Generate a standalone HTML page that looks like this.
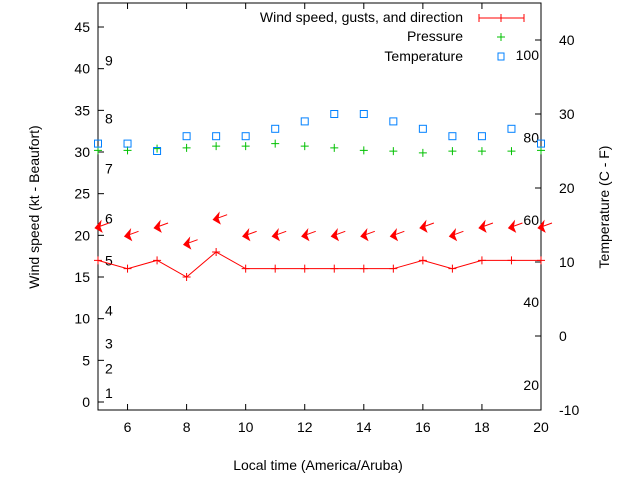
<!DOCTYPE html>
<html><head><meta charset="utf-8"><style>
body{margin:0;background:#fff}
svg text{font-family:"Liberation Sans",sans-serif;font-size:14px;fill:#000}
</style></head><body>
<svg width="640" height="480" xmlns="http://www.w3.org/2000/svg">
<g id="plot"></g>
</svg>
<script>
const hours=[5,6,7,8,9,10,11,12,13,14,15,16,17,18,19,20];
const windSpeed=[17,16,17,15,18,16,16,16,16,16,16,17,16,17,17,17];
const gusts=[21,20,21,19,22,20,20,20,20,20,20,21,20,21,21,21];
const pressure=[30.2,30.2,30.4,30.5,30.7,30.7,31,30.7,30.5,30.2,30.1,29.9,30.1,30.1,30.1,30.2];
const temperature=[26,26,25,27,27,27,28,29,30,30,29,28,27,27,28,26];
const xTicks=[6,8,10,12,14,16,18,20];
const yLeftTicks=[0,5,10,15,20,25,30,35,40,45];
const yRightTicks=[-10,0,10,20,30,40];
const beaufortLabels=["1","2","3","4","5","6","7","8","9"];
const beaufortY=[1.1,4,7,11,17,22,28,34,41];
const fahrLabels=["20","40","60","80","100"];
const fahrY=[-6.6,4.6,15.7,26.8,38];

const L=98,R=541,T=3,B=410;
const X=h=>L+(h-5)*(R-L)/15;
const Y=v=>402-v*8.333;
const YR=t=>336-t*7.4;
const g=document.getElementById('plot');
const NS="http://www.w3.org/2000/svg";
function mk(tag,at,parent){const e=document.createElementNS(NS,tag);for(const k in at)e.setAttribute(k,at[k]);(parent||g).appendChild(e);return e;}
function txt(x,y,s,anchor){const e=mk('text',{x:x,y:y,'text-anchor':anchor||'middle'});e.textContent=s;return e;}

const frame=mk('rect',{x:L,y:T,width:R-L,height:B-T,fill:'none',stroke:'#000','stroke-width':1});



xTicks.forEach(h=>{
 const t=mk('path',{d:`M${X(h)} ${B}v-6M${X(h)} ${T}v6`,stroke:'#000'});
 
 
 const l=txt(X(h),432,String(h));
 
 
});
yLeftTicks.forEach(v=>{
 const t=mk('path',{d:`M${L} ${Y(v)}h6`,stroke:'#000'});
 
 
 const l=txt(L-8,Y(v)+5,String(v),'end');
 
 
});
yRightTicks.forEach(v=>{
 const t=mk('path',{d:`M${R} ${YR(v)}h-6`,stroke:'#000'});
 
 
 const l=txt(R+18,YR(v)+5,String(v),'start');
 
 
});
beaufortLabels.forEach((s,i)=>{
 const l=txt(105,Y(beaufortY[i])+5,s,'start');
 
 
});
fahrLabels.forEach((s,i)=>{
 const l=txt(539,YR(fahrY[i])+5,s,'end');
 
 
});

const wl=mk('polyline',{points:hours.map((h,i)=>X(h)+','+Y(windSpeed[i])).join(' '),fill:'none',stroke:'#f00'});


hours.forEach((h,i)=>{
 const m=mk('path',{d:`M${X(h)-4} ${Y(windSpeed[i])}h8M${X(h)} ${Y(windSpeed[i])-4}v8`,stroke:'#f00'});
 
 
});
hours.forEach((h,i)=>{
 const x=X(h),y=Y(gusts[i]);
 const a=mk('g',{});
 
 
 mk('path',{d:`M${x} ${y}L${x+11} ${y-4}`,stroke:'#f00'},a);
 mk('path',{d:`M${x-3} ${y+1}L${x+3} ${y-6}L${x+2} ${y}L${x+4} ${y+5}Z`,fill:'#f00',stroke:'#f00','stroke-width':0.8},a);
});
hours.forEach((h,i)=>{
 const x=X(h),y=Y(pressure[i]);
 const m=mk('path',{d:`M${x-4} ${y}h8M${x} ${y-4}v8`,stroke:'#00c000'});
 
 
});
hours.forEach((h,i)=>{
 const x=X(h),y=YR(temperature[i]);
 const m=mk('rect',{x:x-3.5,y:y-3.5,width:7,height:7,fill:'none',stroke:'#0080ff'});
 
 
});

const lg=mk('g',{});


[[22,'Wind speed, gusts, and direction'],[41,'Pressure'],[61,'Temperature']].forEach(([y,s])=>{
 const t=mk('text',{x:463,y:y,'text-anchor':'end'},lg);t.textContent=s;
 
 
});
mk('path',{d:'M479 18h45M479 14v8M524 14v8M501 14v8',stroke:'#f00'},lg);
mk('path',{d:'M497 37h8M501 33v8',stroke:'#00c000'},lg);
mk('rect',{x:498,y:53,width:6,height:7,fill:'none',stroke:'#0080ff'},lg);

const xl=txt(318,470,'Local time (America/Aruba)');


const yl=mk('text',{x:0,y:0,'text-anchor':'middle',transform:'translate(39,207) rotate(-90)'});
yl.textContent='Wind speed (kt - Beaufort)';


const yr=mk('text',{x:0,y:0,'text-anchor':'middle',transform:'translate(609,207) rotate(-90)'});
yr.textContent='Temperature (C - F)';


</script>
</body></html>
